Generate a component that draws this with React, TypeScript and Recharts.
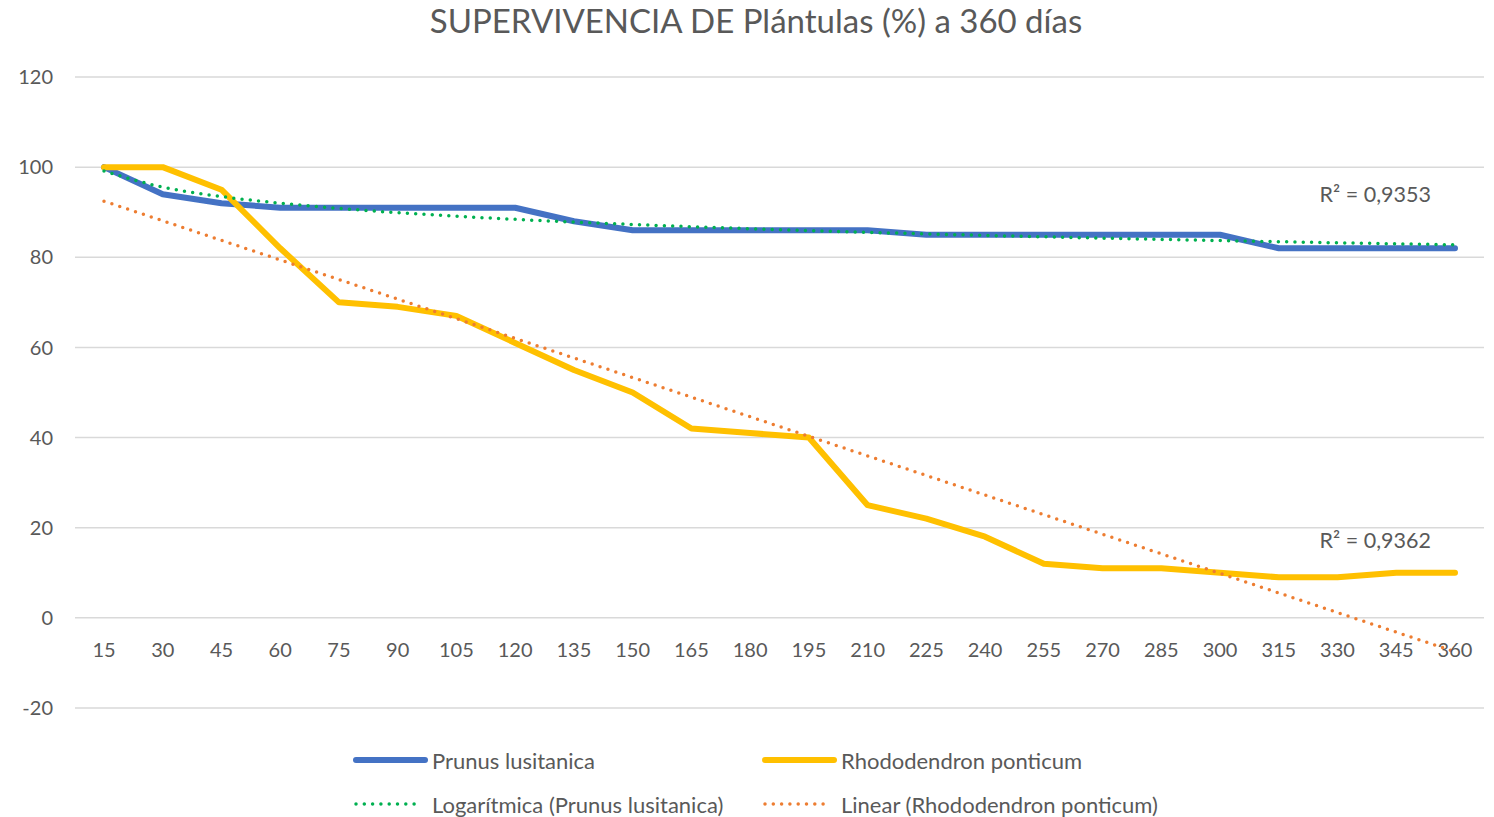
import { LineChart, Line, XAxis, YAxis, CartesianGrid, ReferenceDot } from 'recharts';

// días (eje X)
const dias = ['15', '30', '45', '60', '75', '90', '105', '120', '135', '150', '165', '180', '195', '210', '225', '240', '255', '270', '285', '300', '315', '330', '345', '360'];

// supervivencia (%)
const prunus = [100, 94, 92, 91, 91, 91, 91, 91, 88, 86, 86, 86, 86, 86, 85, 85, 85, 85, 85, 85, 82, 82, 82, 82];
const rhodo = [100, 100, 95, 82, 70, 69, 67, 61, 55, 50, 42, 41, 40, 25, 22, 18, 12, 11, 11, 10, 9, 9, 10, 10];

const yTicks = [-20, 0, 20, 40, 60, 80, 100, 120];
const r2Prunus = 'R² = 0,9353';
const r2Rhodo = 'R² = 0,9362';

const COLORS = { prunus: '#4472C4', rhodo: '#FFC000', log: '#00B050', lin: '#ED7D31', text: '#595959', grid: '#D9D9D9' };
const FONT = 'Lato, "Open Sans", sans-serif';

// ajuste por mínimos cuadrados, como la línea de tendencia de Excel
function fit(xs: number[], ys: number[]) {
  const n = xs.length;
  const mx = xs.reduce((a, b) => a + b, 0) / n;
  const my = ys.reduce((a, b) => a + b, 0) / n;
  let sxy = 0, sxx = 0;
  for (let i = 0; i < n; i++) {
    sxy += (xs[i] - mx) * (ys[i] - my);
    sxx += (xs[i] - mx) ** 2;
  }
  const slope = sxy / sxx;
  return { slope, intercept: my - slope * mx };
}

const idx = dias.map((_, i) => i + 1);
const logFit = fit(idx.map((i) => Math.log(i)), prunus);
const linFit = fit(idx, rhodo);

const data = dias.map((d, i) => ({
  dia: d,
  prunus: prunus[i],
  rhodo: rhodo[i],
  logPrunus: logFit.intercept + logFit.slope * Math.log(i + 1),
  linRhodo: linFit.intercept + linFit.slope * (i + 1),
}));

const XTick = ({ x, y, payload }: any) => (
  <text x={x} y={y - 59} textAnchor="middle" dominantBaseline="central" fill={COLORS.text} fontSize={20} fontFamily={FONT}>
    {payload.value}
  </text>
);

const legendItems = [
  { label: 'Prunus lusitanica', color: COLORS.prunus, dotted: false, x: 356, y: 760 },
  { label: 'Rhododendron ponticum', color: COLORS.rhodo, dotted: false, x: 765, y: 760 },
  { label: 'Logarítmica (Prunus lusitanica)', color: COLORS.log, dotted: true, x: 356, y: 804 },
  { label: 'Linear (Rhododendron ponticum)', color: COLORS.lin, dotted: true, x: 765, y: 804 },
];

export default function App() {
  return (
    <div style={{ position: 'absolute', top: 0, left: 0, width: 1494, height: 817, background: '#fff', fontFamily: FONT }}>
      <div style={{ position: 'absolute', top: 0, left: 0, width: 1512, textAlign: 'center', fontSize: 33, color: COLORS.text }}>
        SUPERVIVENCIA DE Plántulas (%) a 360 días
      </div>
      <LineChart width={1494} height={730} data={data} margin={{ top: 77, right: 10, left: 0, bottom: 2 }}>
        <CartesianGrid horizontal vertical={false} stroke={COLORS.grid} strokeWidth={1.5} />
        <XAxis dataKey="dia" height={20} axisLine={false} tickLine={false} tickSize={0} tickMargin={0} tick={<XTick />} interval={0} padding={{ left: 29, right: 29 }} />
        <YAxis
          domain={[-20, 120]}
          ticks={yTicks}
          width={75}
          axisLine={false}
          tickLine={false}
          tickSize={0}
          tickMargin={22}
          tick={{ fill: COLORS.text, fontSize: 20, fontFamily: FONT }}
        />
        <Line dataKey="prunus" stroke={COLORS.prunus} strokeWidth={6} strokeLinecap="round" strokeLinejoin="round" dot={false} activeDot={false} isAnimationActive={false} />
        <Line dataKey="rhodo" stroke={COLORS.rhodo} strokeWidth={6} strokeLinecap="round" strokeLinejoin="round" dot={false} activeDot={false} isAnimationActive={false} />
        <Line type="monotone" dataKey="logPrunus" stroke={COLORS.log} strokeWidth={3.5} strokeDasharray="0 8.3" strokeLinecap="round" dot={false} activeDot={false} isAnimationActive={false} />
        <Line dataKey="linRhodo" stroke={COLORS.lin} strokeWidth={3.5} strokeDasharray="0 8.3" strokeLinecap="round" dot={false} activeDot={false} isAnimationActive={false} />
        <ReferenceDot x="345" y={94} r={0} fill="none" stroke="none"
          label={{ value: r2Prunus, position: 'center', dx: -21, fill: COLORS.text, fontSize: 21.5, fontFamily: FONT }} />
        <ReferenceDot x="345" y={17.3} r={0} fill="none" stroke="none"
          label={{ value: r2Rhodo, position: 'center', dx: -21, fill: COLORS.text, fontSize: 21.5, fontFamily: FONT }} />
      </LineChart>
      <svg width={1494} height={87} style={{ position: 'absolute', top: 730, left: 0 }}>
        {legendItems.map((it) => (
          <g key={it.label}>
            <line
              x1={it.x}
              x2={it.x + (it.dotted ? 62 : 69)}
              y1={it.y - 730}
              y2={it.y - 730}
              stroke={it.color}
              strokeWidth={it.dotted ? 3.5 : 6}
              strokeLinecap="round"
              strokeDasharray={it.dotted ? '0 8.3' : undefined}
            />
            <text x={it.x + 76} y={it.y - 730} dominantBaseline="central" fill={COLORS.text} fontSize={22} fontFamily={FONT}>
              {it.label}
            </text>
          </g>
        ))}
      </svg>
    </div>
  );
}
